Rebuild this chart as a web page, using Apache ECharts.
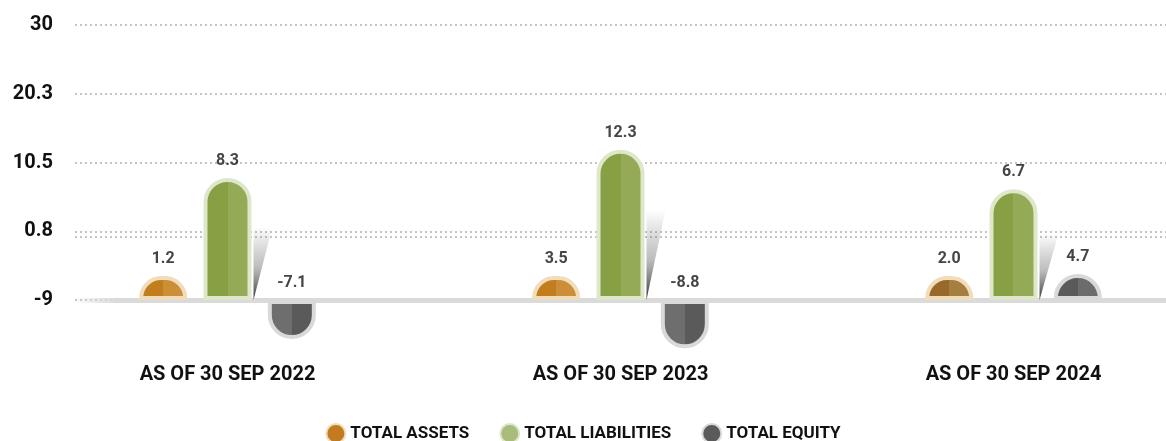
<!DOCTYPE html>
<html>
<head>
<meta charset="utf-8">
<script src="https://cdn.jsdelivr.net/npm/echarts@6/dist/echarts.min.js"></script>
<style>
  html, body { margin: 0; padding: 0; background: #fff; }
  #main { width: 1166px; height: 441px; }
</style>
</head>
<body>
<div id="main"></div>
<script>
  // data
  const categories = ['AS OF 30 SEP 2022', 'AS OF 30 SEP 2023', 'AS OF 30 SEP 2024'];
  const seriesNames = ['TOTAL ASSETS', 'TOTAL LIABILITIES', 'TOTAL EQUITY'];
  const totalAssets = [1.2, 3.5, 2.0];
  const totalLiabilities = [8.3, 12.3, 6.7];
  const totalEquity = [-7.1, -8.8, 4.7];
  const yTickValues = [-9, 0.75, 10.5, 20.25, 30];
  const yTickLabels = ['-9', '0.8', '10.5', '20.3', '30'];

  const FONT = 'Roboto, "DejaVu Sans", sans-serif';
  const BASE = -9;

  var myChart = echarts.init(document.getElementById('main'));

  // two-tone fill, left half / right half
  const twoTone = (c1, c2) => new echarts.graphic.LinearGradient(0, 0, 1, 0, [
    { offset: 0, color: c1 }, { offset: 0.5, color: c1 },
    { offset: 0.5, color: c2 }, { offset: 1, color: c2 }
  ]);

  const valueLabel = {
    show: true,
    position: 'top',
    distance: 9,
    fontFamily: FONT,
    fontSize: 16,
    fontWeight: 'bold',
    color: '#454545',
    formatter: (p) => Number(p.value).toFixed(1)
  };

  const assetsData = totalAssets.map((v, i) => i === 2
    ? { value: v, itemStyle: { color: twoTone('#98692a', '#a57f3f') } }
    : v);

  const equityData = totalEquity.map((v) => v < 0
    ? { value: v, itemStyle: { color: twoTone('#6e6e6e', '#5a5a5a'), borderRadius: [0, 0, 24, 24] } }
    : v);

  // dark slanted shadow on the right of each liabilities bar
  const renderShadow = (params, api) => {
    const b = api.coord([api.value(0), BASE]);
    const t = api.coord([api.value(0), api.value(1)]);
    const x0 = b[0] + 26;
    const h = b[1] - t[1];
    const yTop = b[1] - h * 0.6;
    return {
      type: 'polygon',
      shape: { points: [[x0, b[1]], [x0, yTop], [x0 + 19, yTop]] },
      style: {
        fill: new echarts.graphic.LinearGradient(0, 0, 0, 1, [
          { offset: 0, color: 'rgba(90,90,90,0)' },
          { offset: 0.55, color: 'rgba(110,110,110,0.45)' },
          { offset: 1, color: 'rgba(40,40,40,0.95)' }
        ])
      }
    };
  };

  let option = {
    animation: false,
    backgroundColor: '#ffffff',
    legend: {
      top: 418,
      left: 'center',
      icon: 'circle',
      itemWidth: 19,
      itemHeight: 19,
      itemGap: 30,
      textStyle: { fontFamily: FONT, fontSize: 17, fontWeight: 'bold', color: '#111' },
      data: [
        { name: seriesNames[0], itemStyle: { color: '#c27b1e' } },
        { name: seriesNames[1], itemStyle: { color: '#a9bc79' } },
        { name: seriesNames[2], itemStyle: { color: '#5a5a5a' } }
      ]
    },
    grid: [
      // axis + gridlines
      { left: 75, right: 0, top: 25, height: 275, outerBoundsMode: 'none' },
      // bars
      { left: 31, right: -44, top: 25, height: 336, outerBoundsMode: 'none' }
    ],
    xAxis: [
      {
        gridIndex: 0,
        type: 'category',
        data: categories,
        axisTick: { show: false },
        axisLabel: { show: false },
        axisLine: {
          show: true,
          onZero: false,
          lineStyle: {
            width: 5,
            color: new echarts.graphic.LinearGradient(0, 0, 1, 0, [
              { offset: 0, color: 'rgba(215,215,215,0)' },
              { offset: 0.04, color: '#dadada' },
              { offset: 1, color: '#dadada' }
            ])
          }
        }
      },
      {
        gridIndex: 1,
        type: 'category',
        data: categories,
        axisTick: { show: false },
        axisLine: { show: false },
        axisLabel: {
          margin: 4,
          fontFamily: FONT,
          fontSize: 20,
          fontWeight: 'bold',
          color: '#111'
        }
      }
    ],
    yAxis: [
      {
        gridIndex: 0,
        type: 'value',
        min: -9,
        max: 30,
        axisLine: { show: false },
        axisTick: { show: false, customValues: [-9, 0, 0.75, 10.5, 20.25, 30] },
        axisLabel: {
          customValues: yTickValues,
          margin: 22,
          fontFamily: FONT,
          fontSize: 20,
          fontWeight: 'bold',
          color: '#111',
          formatter: (v) => {
            const i = yTickValues.indexOf(v);
            return i >= 0 ? yTickLabels[i] : '';
          }
        },
        splitLine: {
          show: true,
          lineStyle: { color: '#c4c4c4', width: 2, type: [2, 3] }
        }
      },
      {
        // liabilities: same scale as the visible axis, bars rise from -9
        gridIndex: 1,
        type: 'value',
        show: false,
        min: 30 - 336 / (275 / 39),
        max: 30,
        startValue: BASE,
        splitLine: { show: false }
      },
      {
        // assets / equity: zero sits on the baseline
        gridIndex: 1,
        type: 'value',
        show: false,
        min: -11.1,
        max: 50,
        splitLine: { show: false }
      }
    ],
    series: [
      {
        type: 'custom',
        xAxisIndex: 1,
        yAxisIndex: 1,
        z: 1,
        silent: true,
        renderItem: renderShadow,
        data: totalLiabilities.map((v, i) => [i, v])
      },
      {
        name: seriesNames[0],
        type: 'bar',
        xAxisIndex: 1,
        yAxisIndex: 2,
        barWidth: 48,
        barGap: '34%',
        barMinHeight: 24,
        data: assetsData,
        itemStyle: {
          color: twoTone('#c27e1d', '#cb8f38'),
          borderColor: '#f1dcbc',
          borderWidth: 4,
          borderRadius: [24, 24, 0, 0]
        },
        label: valueLabel
      },
      {
        name: seriesNames[1],
        type: 'bar',
        xAxisIndex: 1,
        yAxisIndex: 1,
        barWidth: 48,
        barGap: '34%',
        data: totalLiabilities,
        itemStyle: {
          color: twoTone('#86a043', '#95aa57'),
          borderColor: '#dfe7cb',
          borderWidth: 4,
          borderRadius: [24, 24, 0, 0]
        },
        label: valueLabel
      },
      {
        name: seriesNames[2],
        type: 'bar',
        xAxisIndex: 1,
        yAxisIndex: 2,
        barWidth: 48,
        barGap: '34%',
        barMinHeight: 24,
        data: equityData,
        itemStyle: {
          color: twoTone('#5a5a5a', '#6c6c6c'),
          borderColor: '#d9d9d9',
          borderWidth: 4,
          borderRadius: [24, 24, 0, 0]
        },
        label: valueLabel
      }
    ]
  };

  myChart.setOption(option);
</script>
</body>
</html>
